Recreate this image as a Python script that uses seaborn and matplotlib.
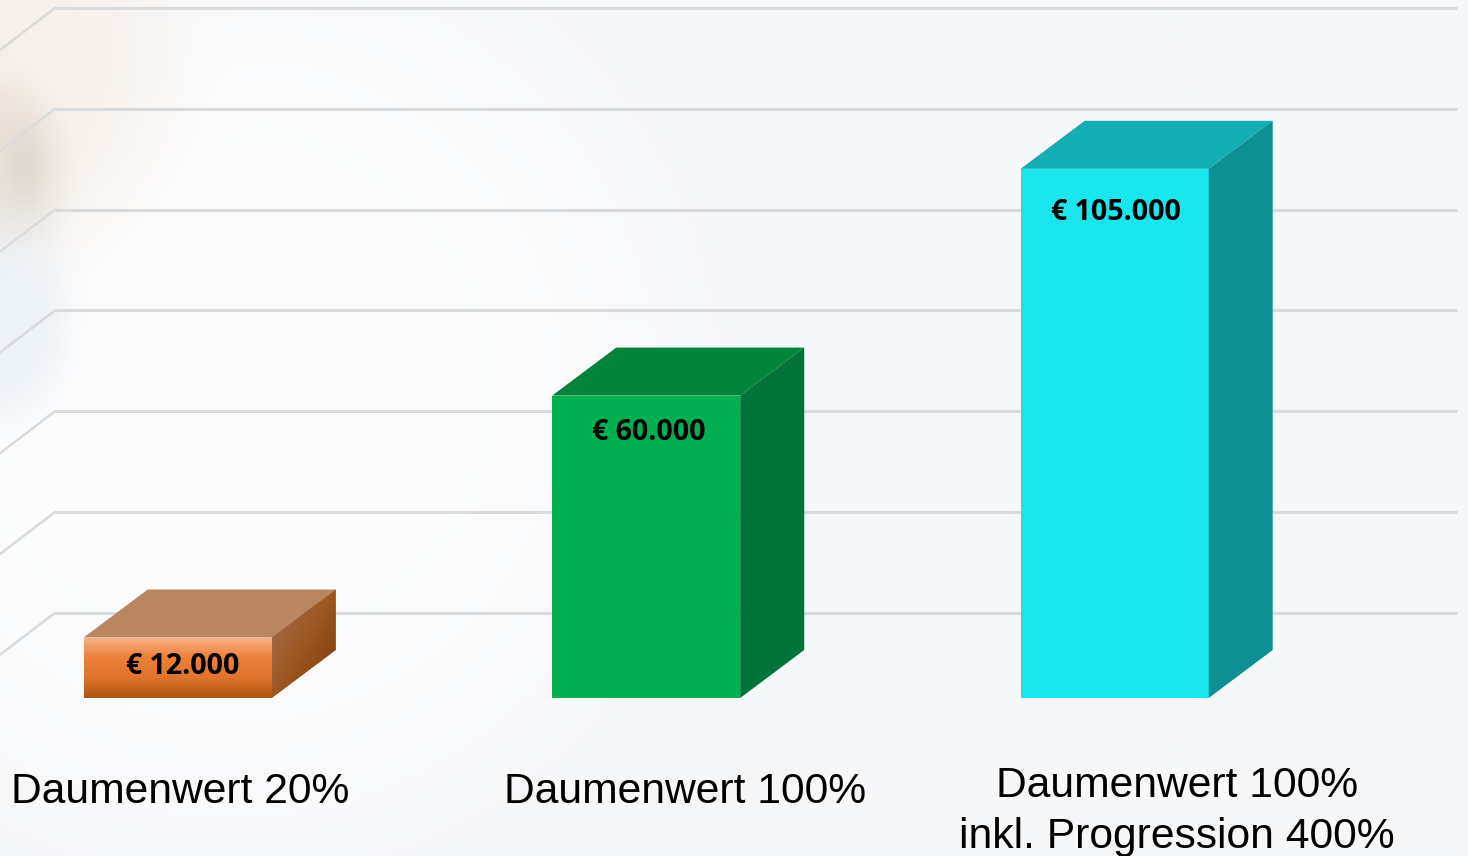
import numpy as np
import pandas as pd
import seaborn as sns
import matplotlib.pyplot as plt
from matplotlib.colors import LinearSegmentedColormap
from matplotlib.patches import Polygon

categories = ["Daumenwert 20%", "Daumenwert 100%", "Daumenwert 100%\ninkl. Progression 400%"]
values = [12000, 60000, 105000]
value_labels = ["€ 12.000", "€ 60.000", "€ 105.000"]
grid_levels = [16900, 36900, 56900, 76900, 96900, 116900, 136900]

front_colors = ["#ee8038", "#00b050", "#19e6ec"]
top_colors = ["#b98660", "#00843c", "#12aeb3"]
side_colors = ["#9c5a28", "#00733a", "#0e8f94"]

W, H = 1468, 856
# pixel scale of the picture
px_per_cat = 468.5
px_per_euro = 5.04 / 1000
x0_px, y0_px = 177.7, 698
depth_x = 64 / px_per_cat
depth_y = 48 / px_per_euro


def xd(px):
    return (px - x0_px) / px_per_cat


def yd(py):
    return (y0_px - py) / px_per_euro


sns.set_theme(style="white")
fig = plt.figure(figsize=(W / 100, H / 100), dpi=100)
ax = fig.add_axes([0, 0, 1, 1])
ax.set_axis_off()

# background: pale grey with a white swoosh and the blurred blobs at the left
yy, xx = np.mgrid[0:H, 0:W]
bg = np.ones((H, W, 3)) * np.array([246, 247, 249])


def blob(cx, cy, sx, sy, color, strength, power=1):
    r2 = ((xx - cx) / sx) ** 2 + ((yy - cy) / sy) ** 2
    g = strength * np.exp(-r2 ** power)
    for c in range(3):
        bg[:, :, c] = bg[:, :, c] * (1 - g) + color[c] * g


blob(230, 390, 420, 420, (255, 255, 255), 0.75, 2)
blob(0, 60, 165, 200, (248, 240, 233), 0.9, 2)
blob(0, 170, 62, 95, (230, 221, 212), 0.8, 2)
blob(25, 165, 20, 38, (205, 200, 194), 0.35)
blob(0, 320, 70, 100, (232, 240, 248), 0.8, 2)
bg_extent = [xd(0), xd(W), yd(H), yd(0)]
ax.imshow(bg / 255, extent=bg_extent, aspect="auto", zorder=0, interpolation="bilinear")

# floor and back wall lines
grid_color = "#dadbdc"
ax.hlines(grid_levels, xd(55), xd(1457), color=grid_color, lw=2.2, zorder=1)
for g in grid_levels:
    ax.plot([xd(55), xd(0)], [g, g - 42 / px_per_euro], color=grid_color, lw=1.8, zorder=1)

df = pd.DataFrame({"category": categories, "value": values})
sns.barplot(data=df, x="category", y="value", hue="category", palette=front_colors,
            width=188 / px_per_cat, legend=False, saturation=1, linewidth=0, ax=ax, zorder=3)

for i, bar in enumerate(ax.patches):
    x = bar.get_x()
    w = bar.get_width()
    h = bar.get_height()
    top = Polygon([(x, h), (x + depth_x, h + depth_y), (x + w + depth_x, h + depth_y), (x + w, h)],
                  closed=True, fc=top_colors[i], ec="none", zorder=3)
    side = Polygon([(x + w, 0), (x + w + depth_x, depth_y), (x + w + depth_x, h + depth_y), (x + w, h)],
                   closed=True, fc=side_colors[i], ec="none", zorder=3)
    ax.add_patch(top)
    ax.add_patch(side)
    # first bar has gradients on the front and the side
    if i == 0:
        cm_front = LinearSegmentedColormap.from_list("f", ["#f7b386", "#ee8038", "#e0742c", "#b2540f"])
        im = ax.imshow(np.linspace(0, 1, 64).reshape(-1, 1), cmap=cm_front, aspect="auto",
                       extent=[x, x + w, 0, h], zorder=3.5, origin="upper")
        im.set_clip_path(bar)
        cm_side = LinearSegmentedColormap.from_list("s", ["#a57355", "#9c5722", "#7a3a08"])
        gx, gy = np.meshgrid(np.linspace(0, 1, 64), np.linspace(0, 1, 64))
        im2 = ax.imshow((gx + gy) / 2, cmap=cm_side, aspect="auto",
                        extent=[x + w, x + w + depth_x, 0, h + depth_y], zorder=3.5, origin="upper")
        im2.set_clip_path(side)

for px, py, s in zip([183, 649, 1116], [667, 433, 213], value_labels):
    ax.text(xd(px), yd(py), s, ha="center", va="center", fontsize=20.6, fontweight="bold",
            family="Open Sans", color="black", zorder=5)

for px, py, s in zip([180, 685, 1177], [792, 792, 811.5], categories):
    ax.text(xd(px), yd(py), s, ha="center", va="center", fontsize=30.7, family="Liberation Sans",
            color="black", linespacing=1.36, zorder=5)

ax.set_xlim(xd(0), xd(W))
ax.set_ylim(yd(H), yd(0))

fig.savefig("out.png", dpi=100)
